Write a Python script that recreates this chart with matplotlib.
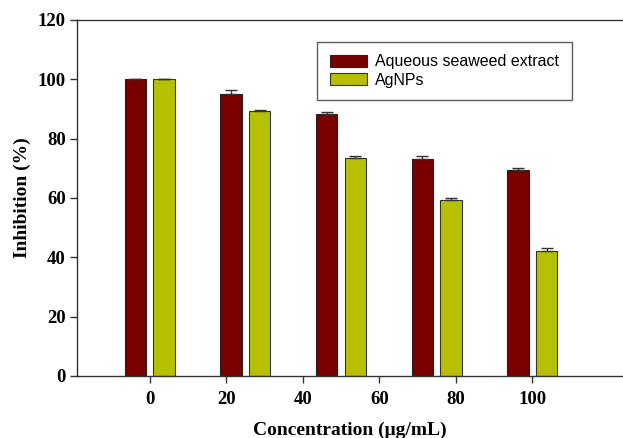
import matplotlib
matplotlib.use("Agg")
import matplotlib.pyplot as plt
import numpy as np

# group positions on the concentration axis (bars sit at 0, 25, 50, 75, 100)
positions = [0, 25, 50, 75, 100]
tick_values = [0, 20, 40, 60, 80, 100]
y_ticks = [0, 20, 40, 60, 80, 100, 120]

seaweed = [100.0, 95.0, 88.3, 73.1, 69.3]
seaweed_err = [0.0, 1.3, 0.6, 0.9, 0.9]
agnps = [100.0, 89.3, 73.6, 59.4, 42.3]
agnps_err = [0.0, 0.2, 0.6, 0.7, 0.9]

RED = "#7A0000"
OLIVE = "#B6BF00"
SERIF = "Liberation Serif"
SANS = "Liberation Sans"

fig = plt.figure(figsize=(6.23, 4.38), dpi=100)
ax = fig.add_axes([77 / 623, 1 - 376 / 438, 1 - 77 / 623, (376 - 20) / 438])

x = np.array(positions, dtype=float)
width = 5.6
offset = 3.75
zeros = np.zeros(len(x))
ax.bar(x - offset, seaweed, width, color=RED, edgecolor="#222222", linewidth=0.8,
       label="Aqueous seaweed extract", zorder=2)
ax.bar(x + offset, agnps, width, color=OLIVE, edgecolor="#333333", linewidth=0.8,
       label="AgNPs", zorder=2)
ax.errorbar(x - offset, seaweed, yerr=[zeros, seaweed_err], fmt="none", ecolor="#333333",
            elinewidth=1, capsize=4, capthick=1, zorder=3)
ax.errorbar(x + offset, agnps, yerr=[zeros, agnps_err], fmt="none", ecolor="#333333",
            elinewidth=1, capsize=4, capthick=1, zorder=3)

ax.set_xlim(-19, 123.7)
ax.set_ylim(0, 120)
ax.set_xticks(tick_values)
ax.set_yticks(y_ticks)
for spine in ["left", "bottom", "top"]:
    ax.spines[spine].set_linewidth(1.0)
    ax.spines[spine].set_color("#333333")
ax.spines["right"].set_visible(False)
ax.tick_params(direction="out", length=5, width=1, color="#333333")
ax.tick_params(axis="x", pad=6)
ax.tick_params(axis="y", pad=3)
for lbl in ax.get_xticklabels() + ax.get_yticklabels():
    lbl.set_fontfamily(SERIF)
    lbl.set_fontweight("bold")
    lbl.set_fontsize(13.5)

ax.set_xlabel("Concentration (μg/mL)", fontfamily=SERIF, fontweight="bold", fontsize=14, labelpad=10)
ax.set_ylabel("Inhibition (%)", fontfamily=SERIF, fontweight="bold", fontsize=14, labelpad=5)

leg = ax.legend(loc="upper left", bbox_to_anchor=((317 - 77) / 546, 1 - (41.7 - 20) / 356),
                frameon=True, fancybox=False, prop={"family": SANS, "size": 11.5},
                handlelength=2.3, handleheight=0.75, handletextpad=0.55,
                borderpad=0.8, labelspacing=0.2, borderaxespad=0)
leg.get_frame().set_edgecolor("#333333")
leg.get_frame().set_linewidth(1.0)

fig.savefig("out.png", dpi=100)
